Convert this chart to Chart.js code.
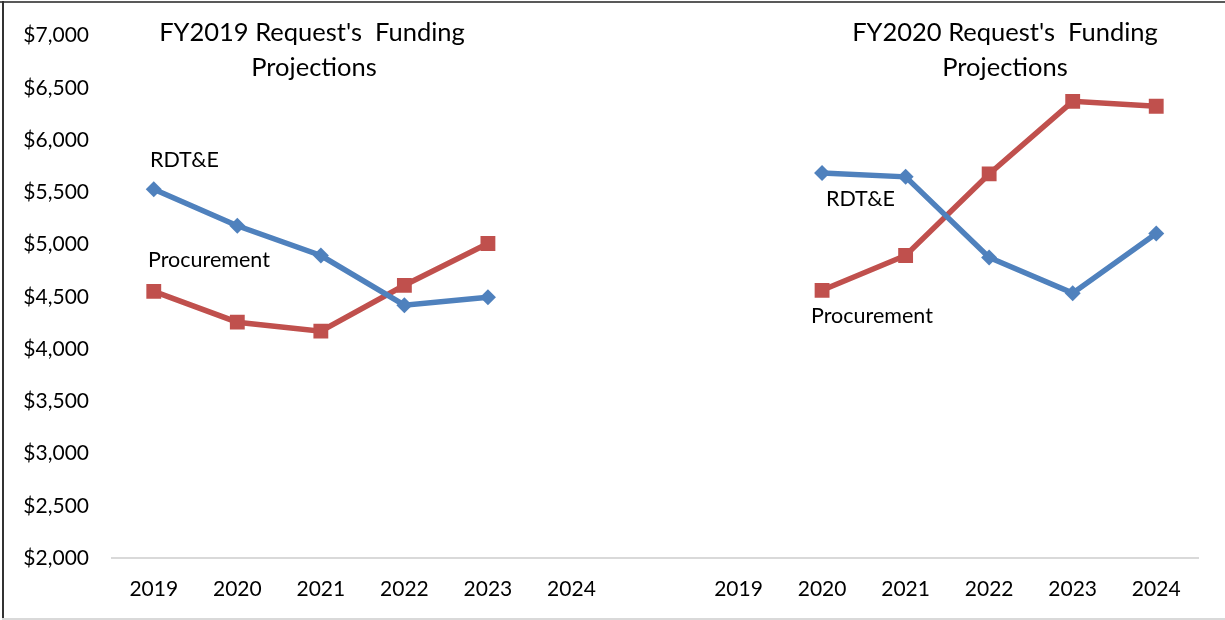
<!DOCTYPE html>
<html>
<head>
<meta charset="utf-8">
<script src="https://cdn.jsdelivr.net/npm/chart.js@4.4.0/dist/chart.umd.min.js"></script>
<style>
  html, body { margin: 0; padding: 0; background: #fff; }
  #wrap { width: 1225px; height: 620px; position: relative; }
</style>
</head>
<body>
<div id="wrap"><canvas id="c" width="1225" height="620"></canvas></div>
<script>
const categories = ['2019','2020','2021','2022','2023','2024','','2019','2020','2021','2022','2023','2024'];
const rdteValues = [5530, 5180, 4895, 4420, 4495, null, null, null, 5685, 5648, 4876, 4535, 5105];
const procurementValues = [4552, 4257, 4171, 4610, 5010, null, null, null, 4562, 4895, 5676, 6371, 6324];
const yTickMin = 2000;
const yTickMax = 7000;
const yTickStep = 500;
const titleLines = [["FY2019 Request's  Funding", "Projections"], ["FY2020 Request's  Funding", "Projections"]];

const FONT = 'Lato, "Open Sans", sans-serif';

const decor = {
  id: 'decor',
  beforeDraw(chart) {
    const ctx = chart.ctx;
    ctx.save();
    ctx.fillStyle = '#fff';
    ctx.fillRect(0, 0, chart.width, chart.height);
    ctx.restore();
  },
  afterDraw(chart) {
    const ctx = chart.ctx;
    ctx.save();
    // frame
    ctx.fillStyle = '#595959';
    ctx.fillRect(0, 1, chart.width, 2);
    ctx.fillStyle = '#333';
    ctx.fillRect(2, 1, 2, chart.height - 1);
    ctx.fillStyle = '#d9d9d9';
    ctx.fillRect(2, chart.height - 2, chart.width - 2, 2);
    // titles
    ctx.fillStyle = '#000';
    ctx.textAlign = 'center';
    ctx.textBaseline = 'middle';
    ctx.font = '25.5px ' + FONT;
    ctx.fillText(titleLines[0][0], 312, 33);
    ctx.fillText(titleLines[0][1], 314, 68);
    ctx.fillText(titleLines[1][0], 1005, 33);
    ctx.fillText(titleLines[1][1], 1005, 68);
    // series labels
    ctx.font = '21.5px ' + FONT;
    ctx.textAlign = 'left';
    ctx.fillText('RDT&E', 150, 160);
    ctx.fillText('Procurement', 148, 260);
    ctx.fillText('RDT&E', 826, 199);
    ctx.fillText('Procurement', 811, 316);
    ctx.restore();
  }
};

new Chart(document.getElementById('c'), {
  type: 'line',
  data: {
    labels: categories,
    datasets: [
      {
        label: 'RDT&E',
        data: rdteValues,
        borderColor: '#4F81BD',
        backgroundColor: '#4F81BD',
        borderWidth: 5.5,
        pointStyle: 'rectRot',
        pointRadius: 8,
        pointBorderWidth: 0,
        spanGaps: false,
        tension: 0
      },
      {
        label: 'Procurement',
        data: procurementValues,
        borderColor: '#C0504D',
        backgroundColor: '#C0504D',
        borderWidth: 5.5,
        pointStyle: 'rect',
        pointRadius: 10.5,
        pointBorderWidth: 0,
        spanGaps: false,
        tension: 0
      }
    ]
  },
  options: {
    responsive: false,
    animation: false,
    devicePixelRatio: 1,
    layout: { padding: { left: 0, right: 27, top: 0, bottom: 0 } },
    plugins: { legend: { display: false }, tooltip: { enabled: false }, title: { display: false } },
    scales: {
      x: {
        offset: true,
        grid: { display: false, drawTicks: false, offset: true },
        border: { display: true, color: '#d9d9d9', width: 2 },
        ticks: { color: '#000', font: { family: FONT, size: 21 }, padding: 19, maxRotation: 0, autoSkip: false },
        afterFit(scale) { scale.height = 62; }
      },
      y: {
        min: yTickMin,
        max: yTickMax,
        grid: { display: false, drawTicks: false },
        border: { display: false },
        ticks: {
          stepSize: yTickStep,
          color: '#000',
          font: { family: FONT, size: 21 },
          padding: 23,
          callback: v => '$' + v.toLocaleString('en-US')
        },
        afterFit(scale) { scale.width = 112; }
      }
    }
  },
  plugins: [decor]
});
</script>
</body>
</html>
